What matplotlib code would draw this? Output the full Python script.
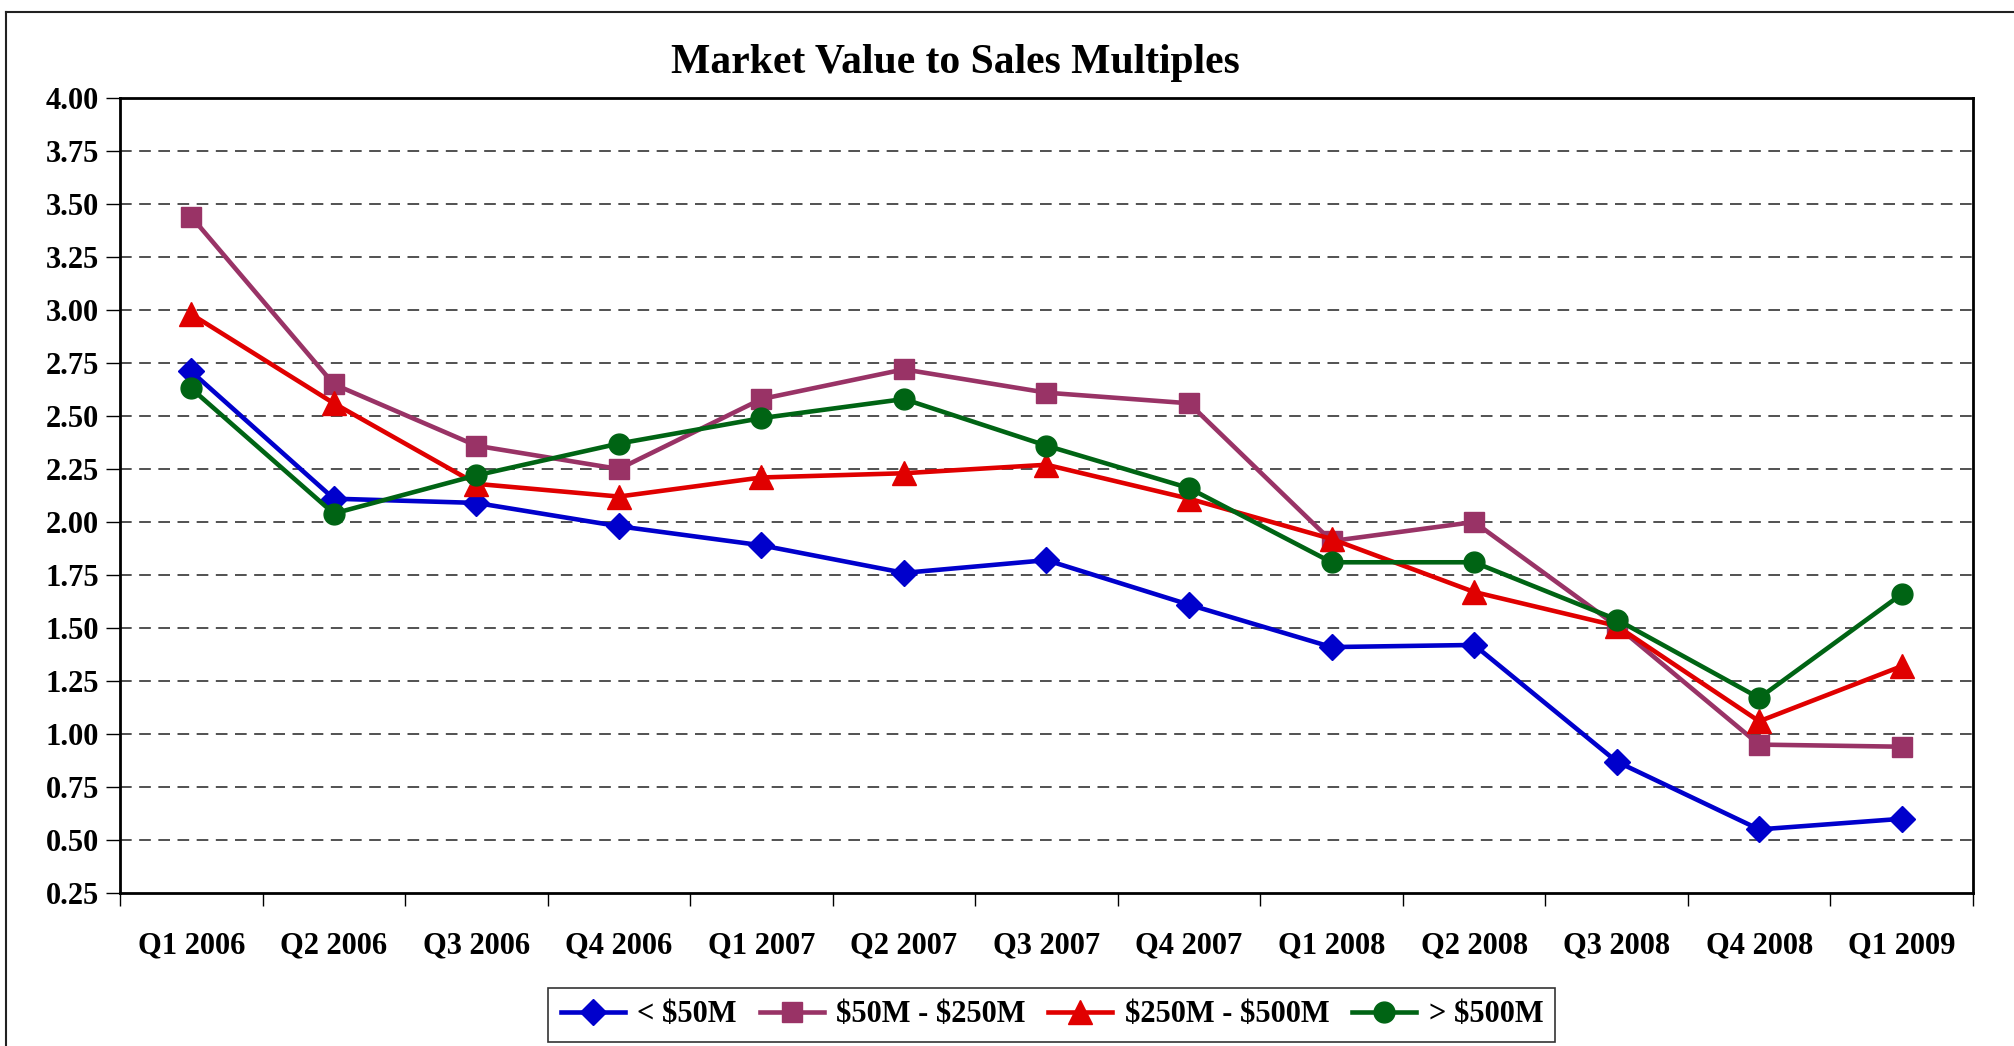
import numpy as np
import matplotlib
matplotlib.use("Agg")
import matplotlib.pyplot as plt
from matplotlib.lines import Line2D

plt.rcParams['font.family'] = ['Liberation Serif', 'DejaVu Serif']
plt.rcParams['font.weight'] = 'bold'

quarters = ["Q1 2006", "Q2 2006", "Q3 2006", "Q4 2006", "Q1 2007", "Q2 2007", "Q3 2007",
            "Q4 2007", "Q1 2008", "Q2 2008", "Q3 2008", "Q4 2008", "Q1 2009"]
under_50 = [2.71, 2.11, 2.09, 1.98, 1.89, 1.76, 1.82, 1.61, 1.41, 1.42, 0.87, 0.55, 0.60]
m50_250 = [3.44, 2.65, 2.36, 2.25, 2.58, 2.72, 2.61, 2.56, 1.91, 2.00, 1.51, 0.95, 0.94]
m250_500 = [2.98, 2.56, 2.18, 2.12, 2.21, 2.23, 2.27, 2.11, 1.92, 1.67, 1.51, 1.06, 1.32]
over_500 = [2.63, 2.04, 2.22, 2.37, 2.49, 2.58, 2.36, 2.16, 1.81, 1.81, 1.54, 1.17, 1.66]
names = [r"< \$50M", r"\$50M - \$250M", r"\$250M - \$500M", r"> \$500M"]

fig = plt.figure(figsize=(20.15, 10.46), dpi=100)
ax = fig.add_axes([120/2015, 1-893/1046, (1973-120)/2015, (893-98)/1046])

x = np.arange(len(quarters))
ax.plot(x, under_50, color='#0000CC', lw=3.3, marker='D', ms=13, label=names[0], zorder=3)
ax.plot(x, m50_250, color='#993366', lw=3.3, marker='s', ms=14, label=names[1], zorder=3)
ax.plot(x, m250_500, color='#E00000', lw=3.3, marker='^', ms=17, label=names[2], zorder=3)
ax.plot(x, over_500, color='#006414', lw=3.3, marker='o', ms=15, label=names[3], zorder=3)

ax.set_xlim(-0.5, len(quarters) - 0.5)
ax.set_ylim(0.25, 4.0)
yt = np.arange(0.25, 4.01, 0.25)
ax.set_yticks(yt)
ax.set_yticklabels(["%.2f" % v for v in yt], fontsize=22, fontweight='bold')
ax.set_xticks(np.arange(-0.5, len(quarters), 1.0))
ax.set_xticklabels([])
ax.set_xticks(x, minor=True)
ax.set_xticklabels(quarters, minor=True, fontsize=22, fontweight='bold')
ax.tick_params(axis='x', which='major', length=9, width=1, direction='out')
ax.tick_params(axis='x', which='minor', length=0, pad=28)
ax.tick_params(axis='y', length=10, width=1, direction='out', pad=5)

for v in yt[1:-1]:
    ax.axhline(v, color='#333333', lw=1.2, dashes=(7, 4.5), zorder=1)

for s in ax.spines.values():
    s.set_linewidth(2)
    s.set_color('black')

fig.text(955/2015, 1-63/1046, "Market Value to Sales Multiples", ha='center', va='center',
         fontsize=30, fontweight='bold')

fig.add_artist(Line2D([6/2015, 6/2015], [0, 1-12/1046], color='#222222', lw=1.5))
fig.add_artist(Line2D([6/2015, 1], [1-12/1046, 1-12/1046], color='#222222', lw=1.5))

leg = fig.legend(loc='center', bbox_to_anchor=(1052/2015, 1-1015/1046), ncol=4,
                 fontsize=22, frameon=True, fancybox=False, handlelength=2.1,
                 columnspacing=0.75, handletextpad=0.4, borderpad=0.4, borderaxespad=0)
leg.get_frame().set_edgecolor('black')
leg.get_frame().set_linewidth(1.2)

fig.savefig("out.png", dpi=100)
